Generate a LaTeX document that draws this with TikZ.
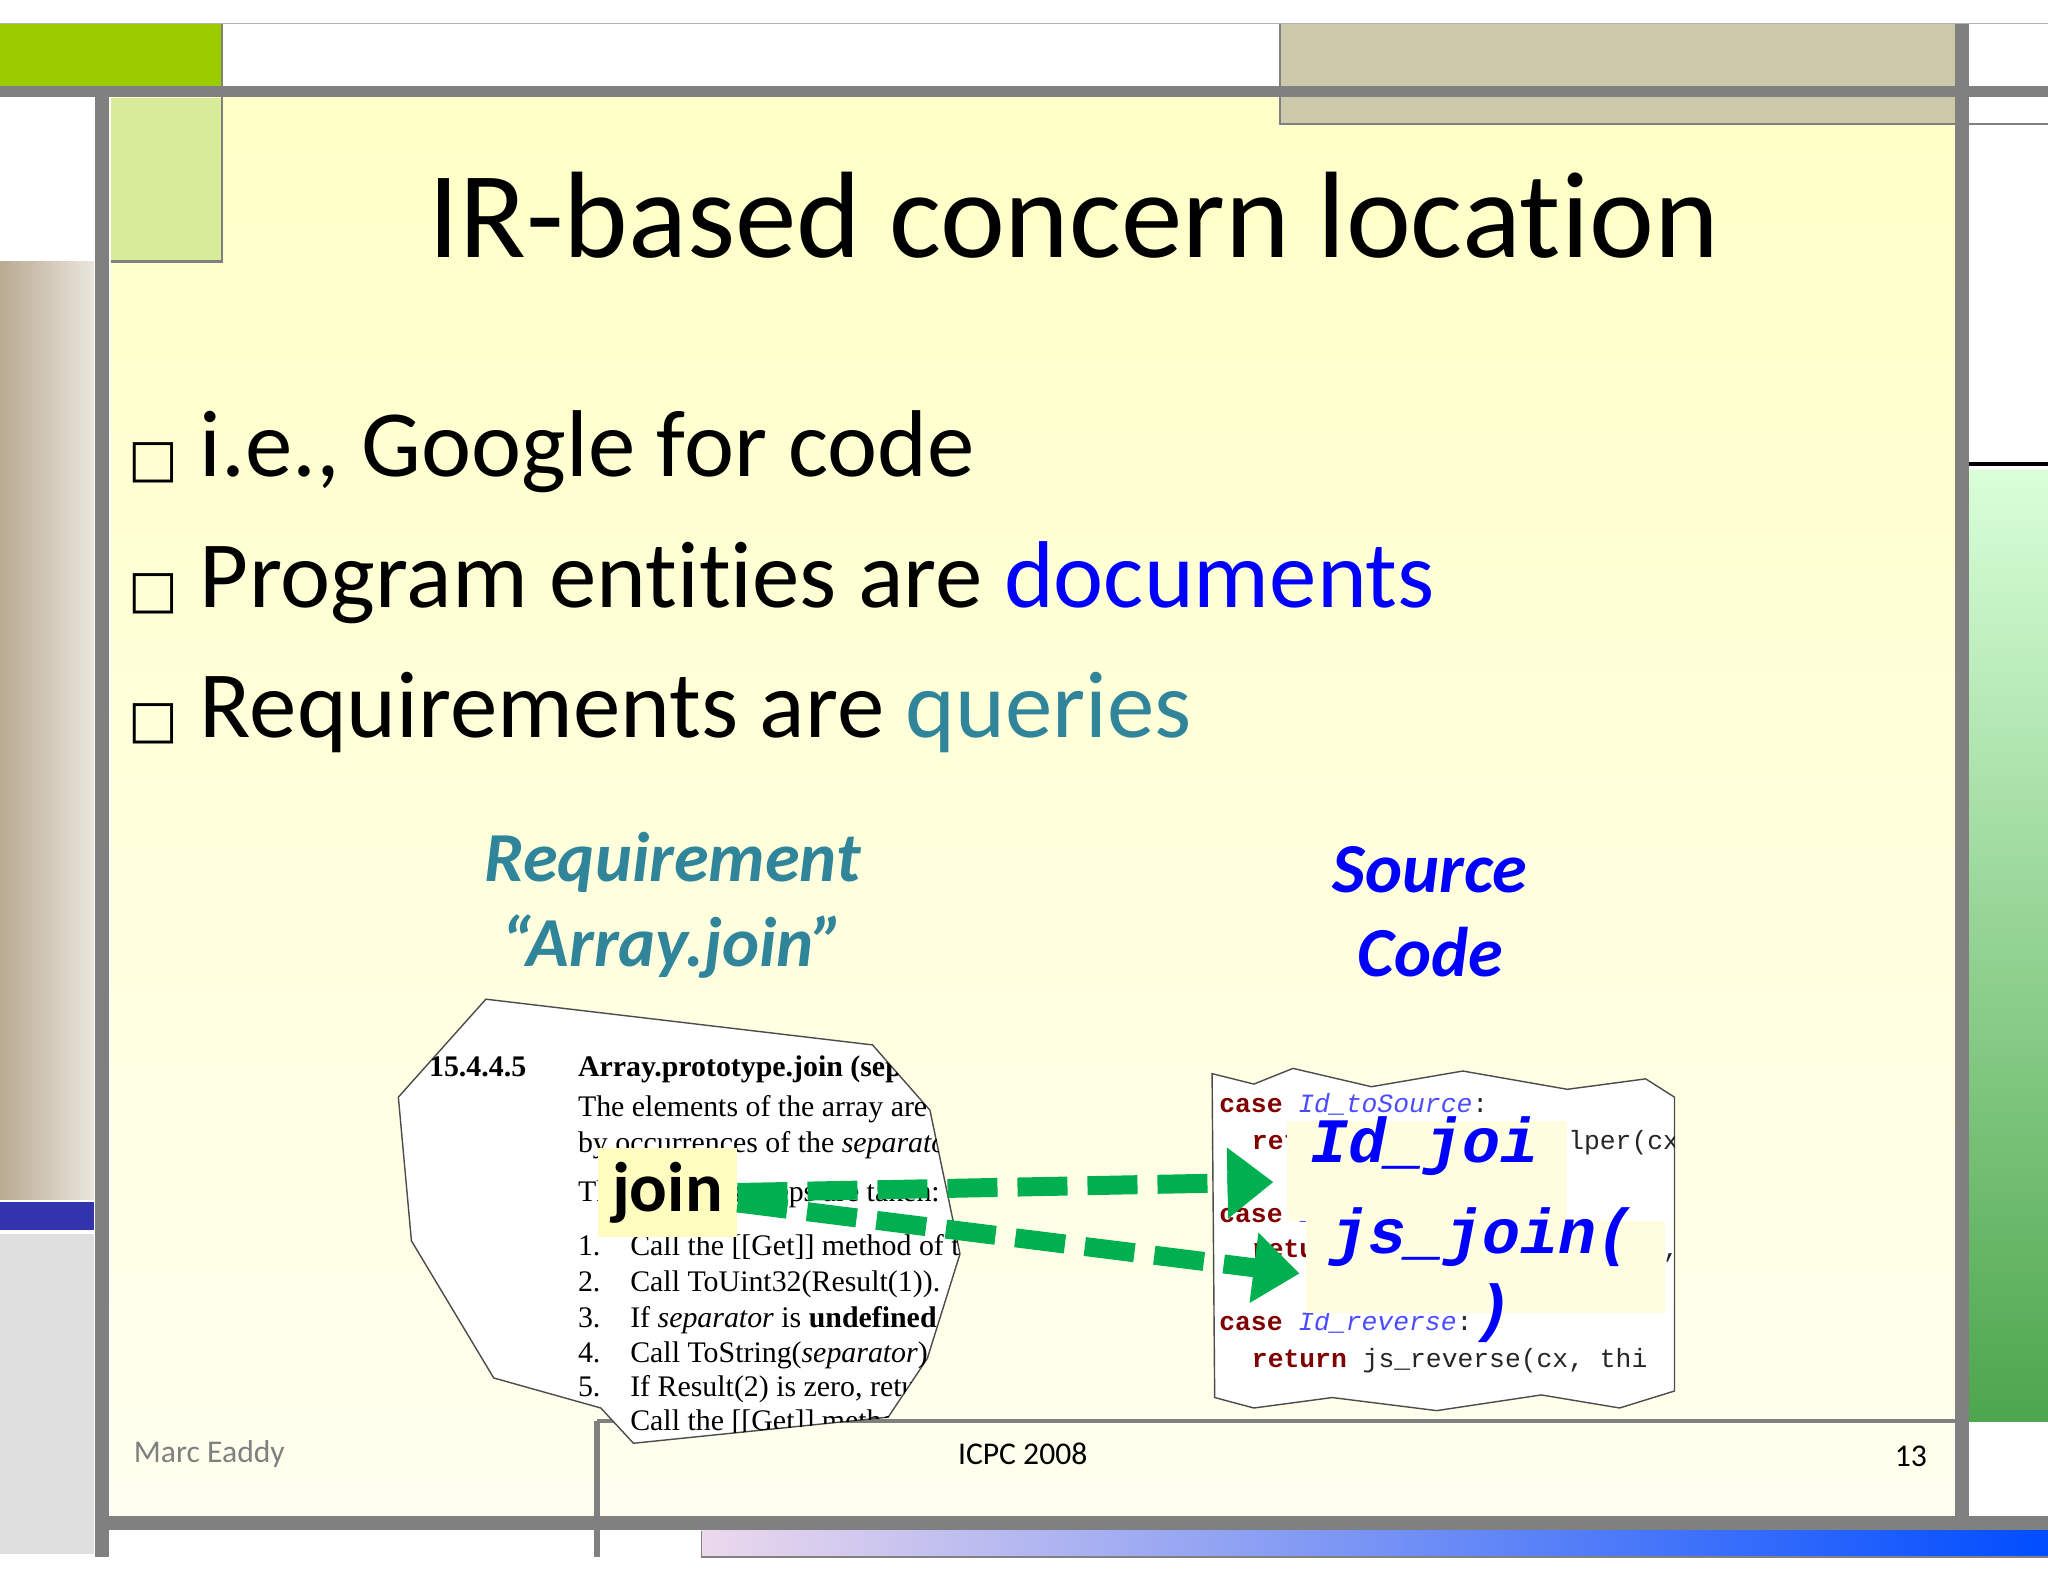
\documentclass[tikz,border=0pt]{standalone}
\usepackage{fontspec}
\setmainfont[Ligatures={NoCommon}]{Carlito}
\newfontfamily\cmono{Liberation Mono}
\newfontfamily\cser{Liberation Serif}
\newfontfamily\dvs{DejaVu Sans}
\newcommand{\bx}{{\dvs\fontsize{15}{18}\selectfont □}\ }
\usetikzlibrary{arrows.meta}
\definecolor{gbar}{RGB}{128,128,128}
\definecolor{lime}{RGB}{155,204,0}
\definecolor{tanc}{RGB}{204,200,170}
\definecolor{teal}{RGB}{49,133,155}
\definecolor{arrg}{RGB}{0,176,80}
\definecolor{tanl}{RGB}{185,170,145}
\tikzset{lbl/.style={inner sep=0pt,anchor=base west},
 req/.style={font=\fontsize{20}{24}\selectfont\bfseries\itshape,align=center},
 code/.style={font=\cmono\fontsize{7.5}{9}\selectfont,text=black!85,anchor=base west,inner sep=0pt},
 spec/.style={font=\cser\fontsize{8.5}{10}\selectfont,anchor=base west,inner sep=0pt},
 gar/.style={arrg,line width=1.9mm,dash pattern=on 5mm off 2mm,-{Triangle[length=4.6mm,width=6.8mm]}},
 hl/.style={fill=yellow!12,draw=none}}
\begin{document}
\begin{tikzpicture}[x=0.013061cm,y=-0.013061cm]
\useasboundingbox (0,0) rectangle (1568,1211);
\fill[white] (0,0) rectangle (1568,1211);
% main area
\shade[top color=yellow!22,bottom color=yellow!6] (85,72) rectangle (1500,1165);
% top
\draw[gbar!60] (0,18) -- (1568,18);
\fill[lime] (0,18) rectangle (170,68);
\fill[tanc] (980,18) rectangle (1500,95);
\draw[gbar,line width=0.8pt] (980,18) -- (980,95) -- (1568,95);
\fill[lime!40] (85,75) rectangle (170,200);
\draw[gbar,line width=0.8pt] (170,18) -- (170,200) -- (85,200);
% left column
\shade[left color=tanl,right color=tanl!30!white] (0,200) rectangle (72,918);
\fill[blue!60!black!80] (0,920) rectangle (72,942);
\fill[gray!25] (0,945) rectangle (72,1190);
% right column
\shade[top color=green!15!white,bottom color=green!50!black!70] (1507,360) rectangle (1568,1088);
\draw[black,line width=1.2pt] (1503,355) -- (1568,355);
% bottom gradient
\shade[left color=violet!15,right color=blue!70!cyan] (537,1172) rectangle (1568,1192);
\draw[gbar] (537,1172) -- (537,1192) -- (1568,1192);
% gray bars
\draw[gbar,line width=3pt] (0,70) -- (1568,70);
\draw[gbar,line width=4pt] (78,70) -- (78,1192);
\draw[gbar,line width=4pt] (1502,18) -- (1502,1165);
\draw[gbar,line width=4pt] (78,1166) -- (1568,1166);
\draw[gbar,line width=1pt] (457,1088) -- (1500,1088);
\draw[gbar,line width=1.5pt] (457,1088) -- (457,1192);
% title
\node[font=\fontsize{35}{42}\selectfont] (title) at (822,165) {IR-based concern location};
% bullets
\node[lbl,font=\fontsize{27}{32}\selectfont] (b1) at (98,365) {\bx i.e., Google for code};
\node[lbl,font=\fontsize{27}{32}\selectfont] (b2) at (98,465) {\bx Program entities are \textcolor{blue}{documents}};
\node[lbl,font=\fontsize{27}{32}\selectfont] (b3) at (98,565) {\bx Requirements are \textcolor{teal}{queries}};
% captions
\node[req,text=teal] (rq) at (515,693) {Requirement\\``Array.join''};
\node[req,text=blue] (sc) at (1095,698) {Source\\Code};
% left snippet
\fill[white] (372,765) -- (668,800) -- (712,850) -- (735,960) -- (710,1040) -- (680,1085) -- (485,1105) -- (460,1078) -- (378,1055) -- (315,950) -- (305,840) -- cycle;
\draw[black!70,line width=0.4pt] (372,765) -- (668,800) -- (712,850) -- (735,960) -- (710,1040) -- (680,1085) -- (485,1105) -- (460,1078) -- (378,1055) -- (315,950) -- (305,840) -- cycle;
\begin{scope}
\clip (372,765) -- (668,800) -- (712,850) -- (735,960) -- (710,1040) -- (680,1085) -- (485,1105) -- (460,1078) -- (378,1055) -- (315,950) -- (305,840) -- cycle;
\node[spec,font=\cser\bfseries\fontsize{8.5}{10}\selectfont] at (328,824) {15.4.4.5};
\node[spec,font=\cser\bfseries\fontsize{8.5}{10}\selectfont] at (442,824) {Array.prototype.join (separator)};
\node[spec] at (442,855) {The elements of the array are converted};
\node[spec] at (442,882) {by occurrences of the \textit{separator}};
\node[spec] at (442,920) {The following steps are taken:};
\node[spec] at (442,961) {1.\quad Call the [[Get]] method of this};
\node[spec] at (442,989) {2.\quad Call ToUint32(Result(1)).};
\node[spec] at (442,1016) {3.\quad If \textit{separator} is \textbf{undefined}};
\node[spec] at (442,1043) {4.\quad Call ToString(\textit{separator})};
\node[spec] at (442,1069) {5.\quad If Result(2) is zero, return};
\node[spec] at (442,1095) {6.\quad Call the [[Get]] method};
\end{scope}
% right snippet
\fill[white] (928,822) -- (960,830) -- (990,818) -- (1050,832) -- (1120,820) -- (1200,834) -- (1260,826) -- (1282,840) -- (1282,1065) -- (1240,1078) -- (1180,1068) -- (1100,1080) -- (1020,1070) -- (960,1078) -- (930,1070) -- cycle;
\draw[black!70,line width=0.4pt] (928,822) -- (960,830) -- (990,818) -- (1050,832) -- (1120,820) -- (1200,834) -- (1260,826) -- (1282,840) -- (1282,1065) -- (1240,1078) -- (1180,1068) -- (1100,1080) -- (1020,1070) -- (960,1078) -- (930,1070) -- cycle;
\begin{scope}
\clip (928,822) -- (960,830) -- (990,818) -- (1050,832) -- (1120,820) -- (1200,834) -- (1260,826) -- (1282,840) -- (1282,1065) -- (1240,1078) -- (1180,1068) -- (1100,1080) -- (1020,1070) -- (960,1078) -- (930,1070) -- cycle;
\node[code] at (933,852) {\textbf{\textcolor{red!50!black}{case}} \textcolor{blue!70}{\itshape Id\_toSource}:};
\node[code] at (958,880) {\textbf{\textcolor{red!50!black}{return}} js\_toStringHelper(cx,};
\node[code] at (933,936) {\textbf{\textcolor{red!50!black}{case}} \textcolor{blue!70}{\itshape Id\_join}:};
\node[code] at (958,963) {\textbf{\textcolor{red!50!black}{return}} js\_join(cx, thisObj, b};
\node[code] at (933,1019) {\textbf{\textcolor{red!50!black}{case}} \textcolor{blue!70}{\itshape Id\_reverse}:};
\node[code] at (958,1047) {\textbf{\textcolor{red!50!black}{return}} js\_reverse(cx, thi};
\end{scope}
% highlights
\fill[hl] (985,858) rectangle (1200,935);
\fill[hl] (1000,935) rectangle (1275,1005);
\node[font=\cmono\bfseries\itshape\fontsize{18}{22}\selectfont,text=blue,anchor=base west,inner sep=0pt] (idj) at (1003,890) {Id\_joi};
\node[font=\cmono\bfseries\itshape\fontsize{18}{22}\selectfont,text=blue,anchor=base west,inner sep=0pt] (jsj) at (1018,960) {js\_join(};
\node[font=\cmono\bfseries\itshape\fontsize{18}{22}\selectfont,text=blue,anchor=base west,inner sep=0pt] (par) at (1128,1018) {)};
\node[fill=yellow!25,font=\fontsize{20}{24}\selectfont\bfseries,inner sep=4pt] (join) at (511,913) {join};
% arrows
\coordinate (t1) at (975,905);
\coordinate (t2) at (995,975);
\draw[gar] (join.east) ++(0,0) -- (t1);
\draw[gar] (join.east) ++(0,8) -- (t2);
% footer
\node[font=\fontsize{9}{11}\selectfont,text=gray,anchor=west] (f1) at (93,1113) {Marc Eaddy};
\node[font=\fontsize{9}{11}\selectfont] (f2) at (783,1113) {ICPC 2008};
\node[font=\fontsize{9}{11}\selectfont] (f3) at (1463,1115) {13};
\end{tikzpicture}
\end{document}
